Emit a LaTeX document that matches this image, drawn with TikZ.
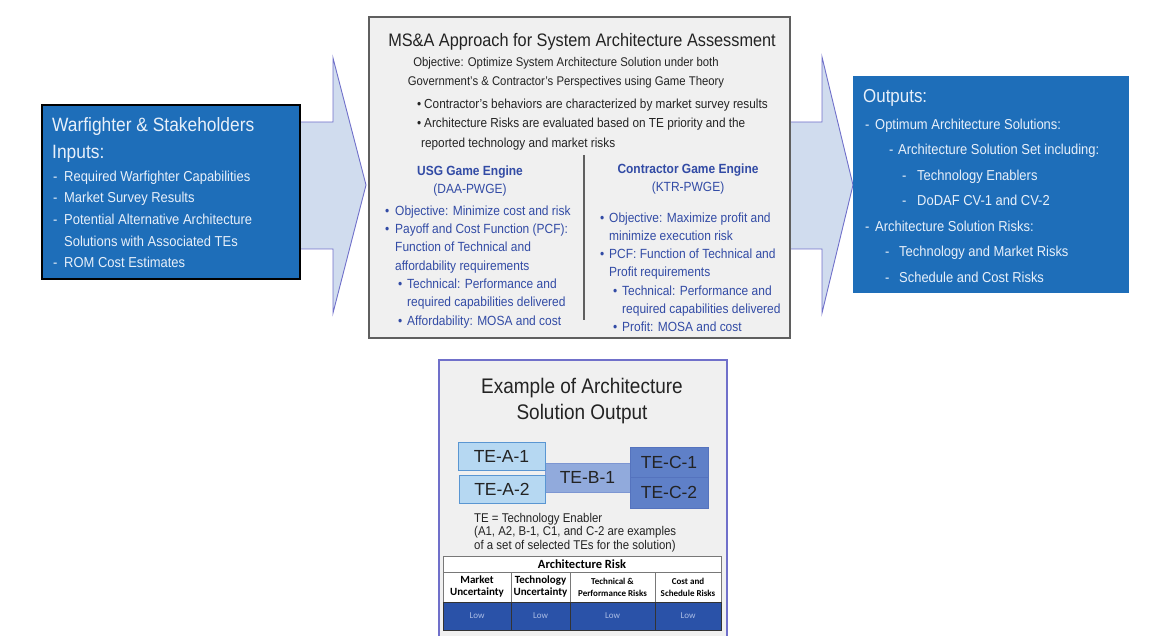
\documentclass[tikz,border=0pt]{standalone}
\usepackage{fontspec}
\setmainfont[FakeStretch=0.9]{Liberation Sans}
\newfontfamily\plainsans{Liberation Sans}
\newfontfamily\tablefont{Carlito}
\usetikzlibrary{positioning,calc}

\definecolor{boxblue}{RGB}{30,110,185}
\definecolor{boxtext}{RGB}{232,240,250}
\definecolor{arrowfill}{RGB}{208,220,238}
\definecolor{arrowline}{RGB}{112,112,202}
\definecolor{panelgray}{RGB}{240,240,240}
\definecolor{panelline}{RGB}{95,95,95}
\definecolor{darktext}{RGB}{35,35,35}
\definecolor{engineblue}{RGB}{50,75,165}
\definecolor{teA}{RGB}{182,216,242}
\definecolor{teAline}{RGB}{90,150,210}
\definecolor{teB}{RGB}{145,170,220}
\definecolor{teBline}{RGB}{125,150,210}
\definecolor{teC}{RGB}{95,128,200}
\definecolor{teCline}{RGB}{85,115,190}
\definecolor{lowblue}{RGB}{42,82,168}
\definecolor{lowtext}{RGB}{172,190,230}
\definecolor{gridline}{RGB}{120,120,120}

\newcommand{\bul}[1][10pt]{\makebox[#1][l]{\textbullet}}
\newcommand{\dsh}[1][11pt]{\makebox[#1][l]{-}}

\tikzset{
box/.style={anchor=north west, inner sep=0pt, outer sep=0pt, line width=1.5pt},
bluebox/.style={box, fill=boxblue},
graybox/.style={box, fill=panelgray, draw=panelline},
txt/.style={anchor=north west, inner sep=0pt, align=left},
blockarrow/.style={fill=arrowfill, draw=arrowline, line width=0.9pt, line join=miter},
tebox/.style={anchor=north west, inner sep=0pt, outer sep=0pt, line width=0.9pt,
  text=darktext, font=\plainsans\fontsize{17.5}{20}\selectfont},
cell/.style={draw=gridline, line width=0.8pt, inner sep=0pt, outer sep=0pt,
  align=center, text=black},
lowcell/.style={cell, draw=black!80, fill=lowblue, text=lowtext,
  minimum height=28pt, font=\tablefont\fontsize{9}{10}\selectfont},
}

\begin{document}
\begin{tikzpicture}[x=1pt, y=-1pt]
\useasboundingbox (0,0) rectangle (1159,636);

% block arrows between the panels
\draw[blockarrow] (300,122) -- (333,122) -- (333,58) -- (366,185) -- (333,313)
  -- (333,249) -- (300,249) -- cycle;
\draw[blockarrow] (790,122) -- (822,122) -- (822,57) -- (853,185) -- (822,313)
  -- (822,249) -- (790,249) -- cycle;

% inputs
\node[bluebox, draw=black, minimum width=258pt, minimum height=174pt] (inputs) at (42,105) {};
\node[txt, text=boxtext, font=\fontsize{19.3}{27}\selectfont] (inhead)
  at ($(inputs.north west)+(10,12.3)$) {Warfighter \& Stakeholders\\Inputs:};
\node[txt, text=boxtext, font=\fontsize{14.4}{21.7}\selectfont] (inlist)
  at ($(inputs.north west)+(11,65.4)$) {%
  \dsh Required Warfighter Capabilities\\
  \dsh Market Survey Results\\
  \dsh Potential Alternative Architecture\\
  \hspace*{11pt}Solutions with Associated TEs\\
  \dsh ROM Cost Estimates};

% approach
\node[graybox, minimum width=421pt, minimum height=321pt] (approach) at (369,17) {};
\node[anchor=north, inner sep=0pt, text=darktext, font=\fontsize{18.1}{20}\selectfont] (title)
  at ($(approach.north)+(2.5,15.8)$) {MS\&A Approach for System Architecture Assessment};
\node[anchor=north, inner sep=0pt, align=center, text=darktext, font=\fontsize{12.6}{19}\selectfont] (objective)
  at ($(approach.north)+(-13.5,40)$) {Objective: Optimize System Architecture Solution under both\\
  Government's \& Contractor's Perspectives using Game Theory};
\node[txt, text=darktext, font=\fontsize{13.1}{19.5}\selectfont] (notes)
  at ($(approach.north west)+(48,81.5)$) {%
  \bul[7pt]Contractor's behaviors are characterized by market survey results\\
  \bul[7pt]Architecture Risks are evaluated based on TE priority and the\\
  \hspace*{4pt}reported technology and market risks};
\node[anchor=north, inner sep=0pt, align=center, text=engineblue, font=\fontsize{13.3}{18}\selectfont] (usg)
  at ($(approach.north west)+(101,148.5)$) {\textbf{USG Game Engine}\\(DAA-PWGE)};
\node[anchor=north, inner sep=0pt, align=center, text=engineblue, font=\fontsize{13.3}{18}\selectfont] (ktr)
  at ($(approach.north west)+(319,146.5)$) {\textbf{Contractor Game Engine}\\(KTR-PWGE)};
\node[txt, text=engineblue, font=\fontsize{13.3}{18.3}\selectfont] (usglist)
  at ($(approach.north west)+(16,188.5)$) {%
  \bul Objective: Minimize cost and risk\\
  \bul Payoff and Cost Function (PCF):\\
  \hspace*{10pt}Function of Technical and\\
  \hspace*{10pt}affordability requirements\\
  \hspace*{13pt}\bul[9pt]Technical: Performance and\\
  \hspace*{22pt}required capabilities delivered\\
  \hspace*{13pt}\bul[9pt]Affordability: MOSA and cost};
\node[txt, text=engineblue, font=\fontsize{13.3}{18.2}\selectfont] (ktrlist)
  at ($(approach.north west)+(231,195.5)$) {%
  \bul[9pt]Objective: Maximize profit and\\
  \hspace*{9pt}minimize execution risk\\
  \bul[9pt]PCF: Function of Technical and\\
  \hspace*{9pt}Profit requirements\\
  \hspace*{13pt}\bul[9pt]Technical: Performance and\\
  \hspace*{22pt}required capabilities delivered\\
  \hspace*{13pt}\bul[9pt]Profit: MOSA and cost};
\draw[panelline, line width=1.2pt] ($(approach.north west)+(215,138)$) -- ++(0,165);

% outputs
\node[bluebox, minimum width=276pt, minimum height=217pt] (outputs) at (853,76) {};
\node[txt, text=boxtext, font=\fontsize{18.8}{20}\selectfont] (outhead)
  at ($(outputs.north west)+(10,13.3)$) {Outputs:};
\node[txt, text=boxtext, font=\fontsize{14.4}{25.5}\selectfont] (outlist)
  at ($(outputs.north west)+(12,42.4)$) {%
  \dsh[10pt]Optimum Architecture Solutions:\\
  \hspace*{24pt}\dsh[9pt]Architecture Solution Set including:\\
  \hspace*{37pt}\dsh[15pt]Technology Enablers\\
  \hspace*{37pt}\dsh[15pt]DoDAF CV-1 and CV-2\\
  \dsh[10pt]Architecture Solution Risks:\\
  \hspace*{20pt}\dsh[14pt]Technology and Market Risks\\
  \hspace*{20pt}\dsh[14pt]Schedule and Cost Risks};

% example of a solution
\node[graybox, draw=arrowline, minimum width=288pt, minimum height=290pt] (example) at (439,360) {};
\node[anchor=north, inner sep=0pt, align=center, text=darktext, font=\fontsize{21.1}{26}\selectfont] (extitle)
  at ($(example.north)+(-1,18.2)$) {Example of Architecture\\Solution Output};

\node[tebox, fill=teB, draw=teBline, minimum width=85pt, minimum height=29pt] (teb1)
  at ($(example.north west)+(106,103)$) {TE-B-1};
\node[tebox, fill=teA, draw=teAline, minimum width=87pt, minimum height=28pt] (tea1)
  at ($(example.north west)+(19,82)$) {TE-A-1};
\node[tebox, fill=teA, draw=teAline, minimum width=86pt, minimum height=28pt] (tea2)
  at ($(example.north west)+(20,115)$) {TE-A-2};
\node[tebox, fill=teC, draw=teCline, minimum width=78pt, minimum height=30pt] (tec1)
  at ($(example.north west)+(191,87)$) {TE-C-1};
\node[tebox, fill=teC, draw=teCline, minimum width=78pt, minimum height=31pt] (tec2)
  at ($(example.north west)+(191,117)$) {TE-C-2};

\node[txt, text=darktext, font=\fontsize{12.7}{13.3}\selectfont] (legend)
  at ($(example.north west)+(35,153)$) {TE = Technology Enabler\\
  (A1, A2, B-1, C1, and C-2 are examples\\
  of a set of selected TEs for the solution)};

% risk table
\node[cell, anchor=north west, fill=white, minimum width=278pt, minimum height=16pt,
  font=\tablefont\bfseries\fontsize{12.5}{13}\selectfont] (riskhead)
  at ($(example.north west)+(4,196)$) {Architecture Risk};
\node[cell, anchor=north west, fill=white, minimum width=68pt, minimum height=30pt,
  font=\tablefont\bfseries\fontsize{11}{12}\selectfont] (mkt)
  at (riskhead.south west) {Market\\Uncertainty};
\node[cell, fill=white, minimum width=59pt, minimum height=30pt, right=0pt of mkt,
  font=\tablefont\bfseries\fontsize{11}{12}\selectfont] (tech) {Technology\\Uncertainty};
\node[cell, fill=white, minimum width=85pt, minimum height=30pt, right=0pt of tech,
  font=\tablefont\bfseries\fontsize{9}{12}\selectfont] (perf) {Technical \&\\Performance Risks};
\node[cell, fill=white, minimum width=66pt, minimum height=30pt, right=0pt of perf,
  font=\tablefont\bfseries\fontsize{9}{12}\selectfont] (sched) {Cost and\\Schedule Risks};
\node[lowcell, minimum width=68pt, below=0pt of mkt] (mktlow) {Low};
\node[lowcell, minimum width=59pt, below=0pt of tech] (techlow) {Low};
\node[lowcell, minimum width=85pt, below=0pt of perf] (perflow) {Low};
\node[lowcell, minimum width=66pt, below=0pt of sched] (schedlow) {Low};
\end{tikzpicture}
\end{document}
